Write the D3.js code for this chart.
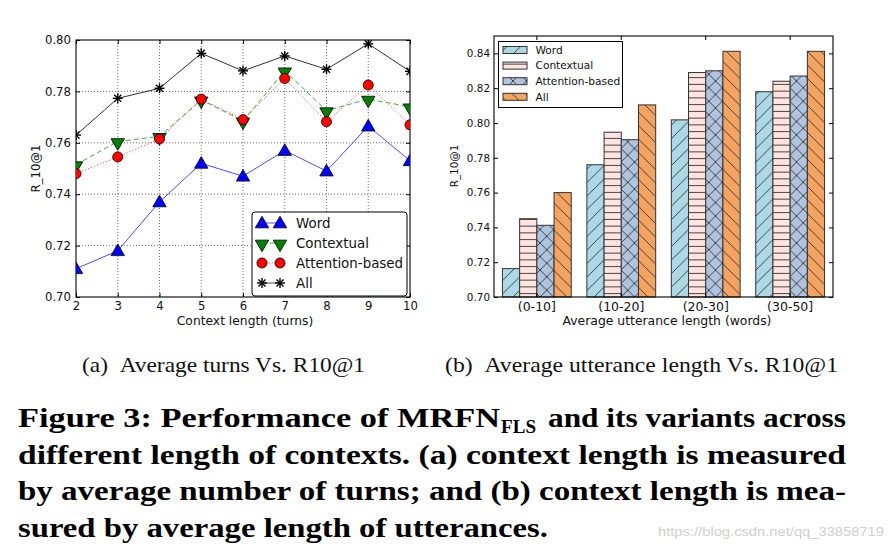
<!DOCTYPE html>
<html><head><meta charset="utf-8">
<script src="https://cdn.jsdelivr.net/npm/d3@7"></script>
<style>body{margin:0;background:#fff}svg{display:block}</style>
</head><body>
<svg id="c" width="890" height="552"></svg>
<script>
// ---------- data ----------
const turns = [2, 3, 4, 5, 6, 7, 8, 9, 10];
const wordTurns = [0.711, 0.718, 0.737, 0.752, 0.747, 0.757, 0.749, 0.7665, 0.753];
const contextualTurns = [0.7515, 0.7605, 0.7625, 0.7767, 0.7685, 0.788, 0.7725, 0.777, 0.774];
const attentionTurns = [0.748, 0.7545, 0.7615, 0.777, 0.769, 0.785, 0.7682, 0.7825, 0.767];
const allTurns = [0.763, 0.7773, 0.7812, 0.7948, 0.788, 0.7938, 0.7886, 0.7985, 0.7878];
const leftYTicks = [0.70, 0.72, 0.74, 0.76, 0.78, 0.80];

const lengthBins = ["(0-10]", "(10-20]", "(20-30]", "(30-50]"];
const wordLen = [0.7163, 0.776, 0.8018, 0.818];
const contextualLen = [0.745, 0.7947, 0.829, 0.824];
const attentionLen = [0.7412, 0.7904, 0.830, 0.827];
const allLen = [0.760, 0.8104, 0.8412, 0.8412];
const rightYTicks = [0.70, 0.72, 0.74, 0.76, 0.78, 0.80, 0.82, 0.84];

const seriesNames = ["Word", "Contextual", "Attention-based", "All"];

const svg = d3.select("#c");
const FONT = "'DejaVu Sans', sans-serif";
const SERIF = "'Liberation Serif', 'DejaVu Serif', serif";

// ---------- left chart ----------
const L = {x0: 76, x1: 410, y0: 40, y1: 297};
const xL = d3.scaleLinear().domain([2, 10]).range([L.x0, L.x1]);
const yL = d3.scaleLinear().domain([0.70, 0.80]).range([L.y1, L.y0]);

const gL = svg.append("g");
svg.append("defs").append("clipPath").attr("id", "clipL")
  .append("rect").attr("x", L.x0).attr("y", L.y0).attr("width", L.x1 - L.x0).attr("height", L.y1 - L.y0);

// grid
gL.append("g").selectAll("line").data(turns.slice(1, -1)).join("line")
  .attr("x1", d => xL(d)).attr("x2", d => xL(d)).attr("y1", L.y0).attr("y2", L.y1)
  .attr("stroke", "#333").attr("stroke-width", 0.7).attr("stroke-dasharray", "1,2");
gL.append("g").selectAll("line").data(leftYTicks.slice(1, -1)).join("line")
  .attr("x1", L.x0).attr("x2", L.x1).attr("y1", d => yL(d)).attr("y2", d => yL(d))
  .attr("stroke", "#333").attr("stroke-width", 0.7).attr("stroke-dasharray", "1,2");

// axes
const fmt2 = d3.format(".2f");
const axB = gL.append("g").attr("transform", `translate(0,${L.y1})`)
  .call(d3.axisBottom(xL).tickValues(turns).tickSize(-4).tickPadding(5).tickFormat(d3.format("d")));
const axT = gL.append("g").attr("transform", `translate(0,${L.y0})`)
  .call(d3.axisTop(xL).tickValues(turns).tickSize(-4).tickFormat(""));
const axLft = gL.append("g").attr("transform", `translate(${L.x0},0)`)
  .call(d3.axisLeft(yL).tickValues(leftYTicks).tickSize(-4).tickPadding(5).tickFormat(fmt2));
const axR = gL.append("g").attr("transform", `translate(${L.x1},0)`)
  .call(d3.axisRight(yL).tickValues(leftYTicks).tickSize(-4).tickFormat(""));
[axB, axT, axLft, axR].forEach(a => {
  a.select(".domain").remove();
  a.selectAll("line").attr("stroke", "#000");
  a.selectAll("text").attr("font-family", FONT).attr("font-size", 11.7).attr("fill", "#111");
});
gL.append("rect").attr("x", L.x0).attr("y", L.y0).attr("width", L.x1 - L.x0).attr("height", L.y1 - L.y0)
  .attr("fill", "none").attr("stroke", "#000").attr("stroke-width", 1.1);

gL.append("text").attr("x", (L.x0 + L.x1) / 2 + 2).attr("y", 325).attr("text-anchor", "middle")
  .attr("font-family", FONT).attr("font-size", 12.3).attr("fill", "#111").text("Context length (turns)");
gL.append("text").attr("transform", `translate(40,${(L.y0 + L.y1) / 2}) rotate(-90)`).attr("text-anchor", "middle")
  .attr("font-family", FONT).attr("font-size", 11.7).attr("fill", "#111").text("R_10@1");

const lineSeries = [
  {name: seriesNames[0], vals: wordTurns, color: "#0000ff", dash: null, sym: d3.symbolTriangle, rot: 0, size: 78},
  {name: seriesNames[1], vals: contextualTurns, color: "#008000", dash: "5,3", sym: d3.symbolTriangle, rot: 180, size: 78},
  {name: seriesNames[2], vals: attentionTurns, color: "#ff0000", dash: "1.2,2", sym: d3.symbolCircle, rot: 0, size: 80},
  {name: seriesNames[3], vals: allTurns, color: "#000000", dash: null, sym: "asterisk", rot: 0, size: 0}
];
const asterisk = (g, x, y, r) => {
  for (let k = 0; k < 4; k++) {
    const a = Math.PI / 4 * k + Math.PI / 2;
    g.append("line").attr("x1", x - r * Math.cos(a)).attr("y1", y - r * Math.sin(a))
      .attr("x2", x + r * Math.cos(a)).attr("y2", y + r * Math.sin(a))
      .attr("stroke", "#000").attr("stroke-width", 1.4);
  }
};
const drawMarker = (g, s, x, y) => {
  if (s.sym === "asterisk") { asterisk(g, x, y, 5); return; }
  g.append("path").attr("d", d3.symbol().type(s.sym).size(s.size)())
    .attr("transform", `translate(${x},${y}) rotate(${s.rot})` + (s.sym === d3.symbolTriangle ? (s.rot ? " translate(0,-1)" : " translate(0,1)") : ""))
    .attr("fill", s.color).attr("stroke", "#000").attr("stroke-width", 0.8);
};
const plotG = gL.append("g").attr("clip-path", "url(#clipL)");
const lineGen = d3.line().x((d, i) => xL(turns[i])).y(d => yL(d));
lineSeries.forEach(s => {
  plotG.append("path").attr("d", lineGen(s.vals)).attr("fill", "none")
    .attr("stroke", s.color).attr("stroke-width", 1).attr("stroke-opacity", s.color === "#000000" ? 0.8 : 0.7)
    .attr("stroke-dasharray", s.dash);
});
lineSeries.forEach(s => {
  s.vals.forEach((v, i) => drawMarker(plotG, s, xL(turns[i]), yL(v)));
});

// left legend
const lg = gL.append("g");
lg.append("rect").attr("x", 252).attr("y", 212).attr("width", 155).attr("height", 84).attr("rx", 3)
  .attr("fill", "#fff").attr("stroke", "#000").attr("stroke-width", 1);
lineSeries.forEach((s, i) => {
  const cy = 223 + i * 20;
  lg.append("line").attr("x1", 262).attr("x2", 280).attr("y1", cy).attr("y2", cy)
    .attr("stroke", s.color).attr("stroke-width", 1).attr("stroke-opacity", 0.7).attr("stroke-dasharray", s.dash);
  drawMarker(lg, s, 262, cy);
  drawMarker(lg, s, 280, cy);
  lg.append("text").attr("x", 296).attr("y", cy).attr("dy", "0.36em")
    .attr("font-family", FONT).attr("font-size", 13.4).attr("fill", "#111").text(s.name);
});

// ---------- right chart ----------
const R = {x0: 494, x1: 833, y0: 36, y1: 297};
const xR = d3.scaleBand().domain(lengthBins).range([R.x0, R.x1]).paddingInner(0.185).paddingOuter(0.1);
const xSub = d3.scaleBand().domain(seriesNames).range([0, xR.bandwidth()]);
const yR = d3.scaleLinear().domain([0.70, 0.85]).range([R.y1, R.y0]);

const defs = svg.select("defs");
const P = 13.5;
const mkPat = (id, bg, paths, w, h) => {
  const p = defs.append("pattern").attr("id", id).attr("patternUnits", "userSpaceOnUse")
    .attr("width", w).attr("height", h);
  p.append("rect").attr("width", w).attr("height", h).attr("fill", bg);
  paths.forEach(d => p.append("path").attr("d", d).attr("stroke", "#333").attr("stroke-width", 0.9).attr("fill", "none"));
};
mkPat("hWord", "#add8e6", [`M0,${P} L${P},0`, `M-2,2 L2,-2`, `M${P - 2},${P + 2} L${P + 2},${P - 2}`], P, P);
mkPat("hCtx", "#ffe4e1", [`M0,${P / 4} L${P},${P / 4}`], P, P / 2);
mkPat("hAtt", "#b0c4de", [`M0,${P} L${P},0`, `M0,0 L${P},${P}`], P, P);
mkPat("hAll", "#f4a460", [`M0,0 L${P},${P}`, `M-2,${P - 2} L2,${P + 2}`, `M${P - 2},-2 L${P + 2},2`], P, P);
const barFills = ["url(#hWord)", "url(#hCtx)", "url(#hAtt)", "url(#hAll)"];
const barSeries = [wordLen, contextualLen, attentionLen, allLen];

const gR = svg.append("g");
barSeries.forEach((vals, si) => {
  gR.append("g").selectAll("rect").data(vals).join("rect")
    .attr("x", (d, i) => xR(lengthBins[i]) + xSub(seriesNames[si]))
    .attr("width", xSub.bandwidth())
    .attr("y", d => yR(d)).attr("height", d => yR(0.70) - yR(d))
    .attr("fill", barFills[si]).attr("stroke", "#333").attr("stroke-width", 1);
});

const rB = gR.append("g").attr("transform", `translate(0,${R.y1})`)
  .call(d3.axisBottom(xR).tickSize(-4).tickPadding(5));
const rT = gR.append("g").attr("transform", `translate(0,${R.y0})`)
  .call(d3.axisTop(xR).tickSize(-4).tickFormat(""));
const rL = gR.append("g").attr("transform", `translate(${R.x0},0)`)
  .call(d3.axisLeft(yR).tickValues(rightYTicks).tickSize(-4).tickPadding(4).tickFormat(fmt2));
const rR = gR.append("g").attr("transform", `translate(${R.x1},0)`)
  .call(d3.axisRight(yR).tickValues(rightYTicks).tickSize(-4).tickFormat(""));
[rB, rT, rL, rR].forEach(a => {
  a.select(".domain").remove();
  a.selectAll("line").attr("stroke", "#000");
  a.selectAll("text").attr("font-family", FONT).attr("font-size", 10.4).attr("fill", "#111");
});
rB.selectAll("text").attr("font-size", 12.5);
gR.append("rect").attr("x", R.x0).attr("y", R.y0).attr("width", R.x1 - R.x0).attr("height", R.y1 - R.y0)
  .attr("fill", "none").attr("stroke", "#000").attr("stroke-width", 1.1);
gR.append("text").attr("x", 667).attr("y", 325).attr("text-anchor", "middle")
  .attr("font-family", FONT).attr("font-size", 12.4).attr("fill", "#111").text("Average utterance length (words)");
gR.append("text").attr("transform", `translate(458,166) rotate(-90)`).attr("text-anchor", "middle")
  .attr("font-family", FONT).attr("font-size", 10.4).attr("fill", "#111").text("R_10@1");

// right legend
const rl = gR.append("g");
rl.append("rect").attr("x", 498.5).attr("y", 41.5).attr("width", 124).attr("height", 66)
  .attr("fill", "#fff").attr("stroke", "#000").attr("stroke-width", 1);
seriesNames.forEach((n, i) => {
  const cy = 50 + i * 15.6;
  rl.append("rect").attr("x", 503).attr("y", cy - 3.5).attr("width", 24).attr("height", 7)
    .attr("fill", barFills[i]).attr("stroke", "#333").attr("stroke-width", 1);
  rl.append("text").attr("x", 535.5).attr("y", cy).attr("dy", "0.36em")
    .attr("font-family", FONT).attr("font-size", 10.6).attr("fill", "#111").text(n);
});

// ---------- captions ----------
const cap = svg.append("g");
cap.append("text").attr("x", 82).attr("y", 372).attr("font-family", SERIF).attr("font-size", 21)
  .attr("textLength", 283).attr("lengthAdjust", "spacingAndGlyphs").attr("fill", "#111")
  .text("(a)\u00a0\u00a0Average turns Vs. R10@1");
cap.append("text").attr("x", 445).attr("y", 372).attr("font-family", SERIF).attr("font-size", 21)
  .attr("textLength", 393).attr("lengthAdjust", "spacingAndGlyphs").attr("fill", "#111")
  .text("(b)\u00a0\u00a0Average utterance length Vs. R10@1");

const bold = (x, y, t, len, size) => cap.append("text").attr("x", x).attr("y", y)
  .attr("font-family", SERIF).attr("font-weight", "bold").attr("font-size", size || 27)
  .attr("textLength", len).attr("lengthAdjust", "spacingAndGlyphs").attr("fill", "#000").text(t);
bold(18, 427, "Figure 3: Performance of MRFN", 482);
bold(501, 433, "FLS", 35, 18);
bold(548, 427, "and its variants across", 298);
bold(18, 464, "different length of contexts. (a) context length is measured", 828);
bold(18, 500, "by average number of turns; and (b) context length is mea-", 828);
bold(18, 537, "sured by average length of utterances.", 530);

cap.append("text").attr("x", 658).attr("y", 536).attr("font-family", "'Liberation Sans Narrow','Liberation Sans',sans-serif")
  .attr("font-size", 13).attr("textLength", 226).attr("lengthAdjust", "spacingAndGlyphs")
  .attr("fill", "#d0d0d0").text("https://blog.csdn.net/qq_33858719");
</script>
</body></html>
